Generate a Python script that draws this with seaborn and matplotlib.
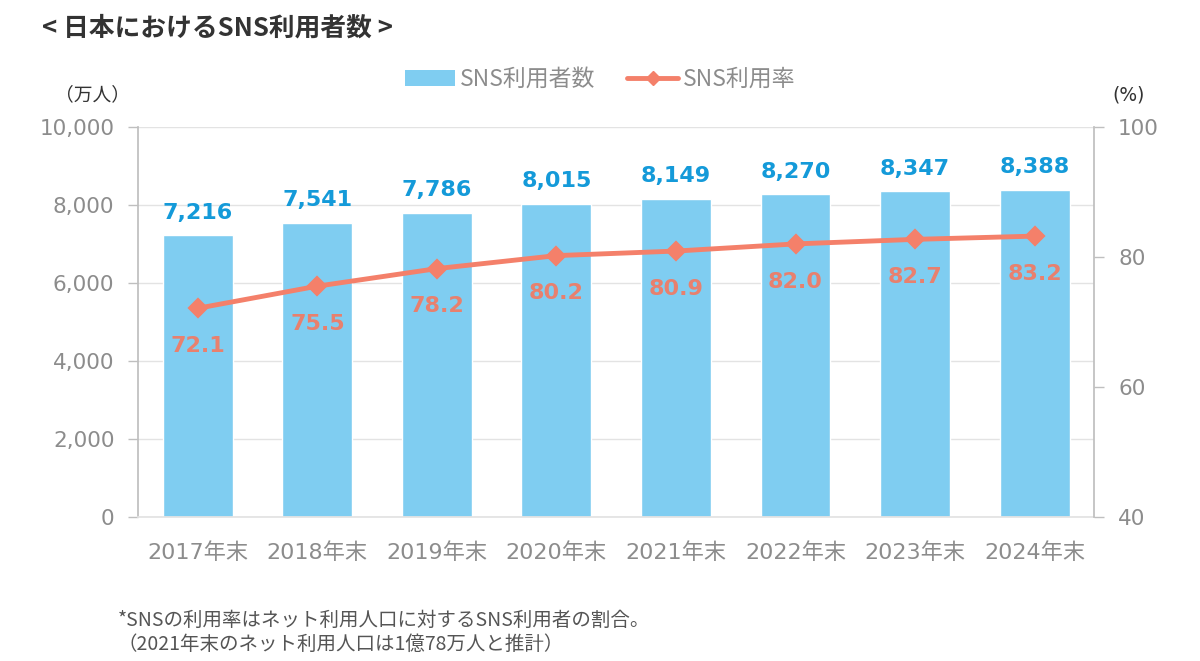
import matplotlib
matplotlib.use("Agg")
import matplotlib.pyplot as plt
import seaborn as sns
import pandas as pd
from matplotlib.lines import Line2D
from matplotlib.patches import Patch

years = ["2017年末", "2018年末", "2019年末", "2020年末", "2021年末", "2022年末", "2023年末", "2024年末"]
users = [7216, 7541, 7786, 8015, 8149, 8270, 8347, 8388]
rate = [72.1, 75.5, 78.2, 80.2, 80.9, 82.0, 82.7, 83.2]
left_ticks = [0, 2000, 4000, 6000, 8000, 10000]
right_ticks = [40, 60, 80, 100]

sns.set_theme(style="white")
plt.rcParams['font.family'] = ['Noto Sans CJK JP', 'DejaVu Sans']
NUMFONT = ['DejaVu Sans', 'Noto Sans CJK JP']

BAR = "#7FCDF1"
LINE = "#F4806A"
BLUE_TXT = "#149AD9"
LINE_TXT = "#E8806E"
GRAY = "#8C8C8C"
SPINE = "#BFBFBF"

df = pd.DataFrame({"year": years, "users": users, "rate": rate})

fig = plt.figure(figsize=(12, 6.61), dpi=100)
ax = fig.add_axes([0.115, 0.218, 0.797, 0.590])
sns.barplot(data=df, x="year", y="users", ax=ax, color=BAR, width=0.585, saturation=1)
ax.set_ylim(0, 10000)
ax.set_xlim(-0.5, len(years) - 0.5)
ax.set_yticks(left_ticks)
ax.set_yticklabels([f"{v:,}" for v in left_ticks])
ax.set_xlabel("")
ax.set_ylabel("")
ax.yaxis.grid(True, color="#E3E3E3", linewidth=1)
ax.set_axisbelow(True)
for s in ["top", "right"]:
    ax.spines[s].set_visible(False)
ax.spines["left"].set_color(SPINE)
ax.spines["bottom"].set_color("#E3E3E3")
ax.tick_params(axis="y", colors=GRAY, labelsize=15.5, length=7, direction="out", width=1, color=SPINE, pad=10, left=True)
ax.tick_params(axis="x", colors=GRAY, labelsize=16, length=0, pad=18)
for lab in ax.get_yticklabels():
    lab.set_color(GRAY)
    lab.set_family(NUMFONT)
for lab in ax.get_xticklabels():
    lab.set_family(NUMFONT)
    lab.set_fontsize(16)

for i, v in enumerate(users):
    ax.text(i, v + 330, f"{v:,}", ha="center", va="bottom", color=BLUE_TXT,
            fontsize=16, fontweight="bold", family=NUMFONT)

ax2 = ax.twinx()
sns.pointplot(data=df, x="year", y="rate", ax=ax2, color=LINE, markers="D",
              markersize=8, linewidth=3.5)
ax2.set_ylim(40, 100)
ax2.set_xlim(-0.5, len(years) - 0.5)
ax2.set_yticks(right_ticks)
ax2.set_ylabel("")
ax2.set_xlabel("")
for s in ["top", "left", "bottom"]:
    ax2.spines[s].set_visible(False)
ax2.spines["right"].set_color(SPINE)
ax2.tick_params(axis="y", colors=GRAY, labelsize=15.5, length=7, direction="out", width=1, color=SPINE, pad=10, right=True)
for lab in ax2.get_yticklabels():
    lab.set_color(GRAY)
    lab.set_family(NUMFONT)

for i, v in enumerate(rate):
    ax2.text(i, v - 5.8, f"{v:.1f}", ha="center", va="center", color=LINE_TXT,
             fontsize=16, fontweight="bold", family=NUMFONT)

handles = [Patch(facecolor=BAR, edgecolor="none"),
           Line2D([0], [0], color=LINE, lw=3.5, marker="D", markersize=7)]
fig.legend(handles, ["SNS利用者数", "SNS利用率"], loc="center", bbox_to_anchor=(0.5, 0.88),
           ncol=2, frameon=False, fontsize=16.5, labelcolor=GRAY, handlelength=2.2,
           columnspacing=1.4, handletextpad=0.2)

fig.text(0.035, 0.958, "< 日本におけるSNS利用者数 >", fontsize=18.5, fontweight="bold",
         color="#333333", ha="left", va="center")
fig.text(0.046, 0.857, "（万人）", fontsize=13.5, color="#333333", ha="left", va="center")
fig.text(0.927, 0.857, "(%)", fontsize=13.5, color="#333333", ha="left", va="center",
         family=NUMFONT)
fig.text(0.098, 0.043, "*SNSの利用率はネット利用人口に対するSNS利用者の割合。\n（2021年末のネット利用人口は1億78万人と推計）",
         fontsize=14, color="#555555", ha="left", va="center", linespacing=1.2)

fig.savefig("out.png", dpi=100)
